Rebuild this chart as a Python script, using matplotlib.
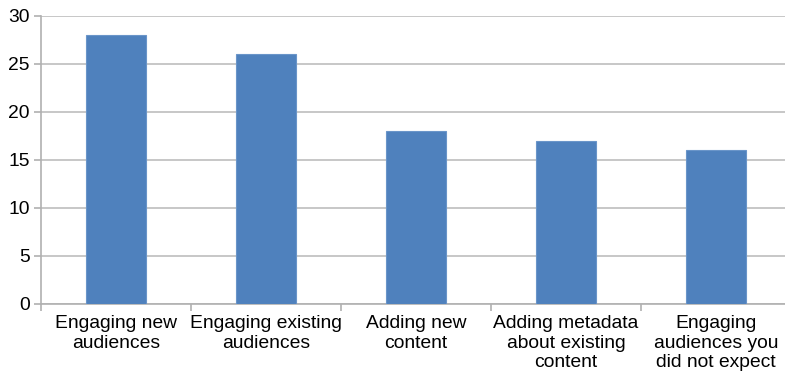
import matplotlib
matplotlib.use("Agg")
import matplotlib.pyplot as plt
import numpy as np

categories = [
    "Engaging new\naudiences",
    "Engaging existing\naudiences",
    "Adding new\ncontent",
    "Adding metadata\nabout existing\ncontent",
    "Engaging\naudiences you\ndid not expect",
]
values = [28, 26, 18, 17, 16]
y_ticks = [0, 5, 10, 15, 20, 25, 30]

plt.rcParams["font.family"] = ["Liberation Sans", "DejaVu Sans"]

W, H = 785, 375
fig = plt.figure(figsize=(W / 100, H / 100), dpi=100)
left, right, bottom, top = 41, 791, 304, 16
ax = fig.add_axes([left / W, 1 - bottom / H, (right - left) / W, (bottom - top) / H])

x = np.arange(len(categories))
ax.bar(x, values, width=0.4, color="#4F81BD", edgecolor="#6A95C9", linewidth=0.8, zorder=3)

ax.set_xlim(-0.5, len(categories) - 0.5)
ax.set_ylim(0, 30)
ax.set_yticks(y_ticks)
ax.yaxis.grid(True, color="#BDBDBD", linewidth=1.2, zorder=0)
ax.set_axisbelow(True)

for s in ["top", "right"]:
    ax.spines[s].set_visible(False)
for s in ["left", "bottom"]:
    ax.spines[s].set_color("#B0B0B0")
    ax.spines[s].set_linewidth(1.2)

# category labels centred under bars, tick marks at category boundaries
ax.set_xticks(x)
ax.set_xticklabels(categories, fontsize=13.9, linespacing=1.2)
ax.tick_params(axis="x", length=0, pad=8)
ax.set_xticks(np.arange(len(categories) + 1) - 0.5, minor=True)
ax.tick_params(axis="x", which="minor", length=5, color="#B0B0B0", width=1.2)
ax.tick_params(axis="y", length=5, color="#B0B0B0", width=1.2, labelsize=13.9, pad=3)

fig.savefig("out.png", dpi=100)
